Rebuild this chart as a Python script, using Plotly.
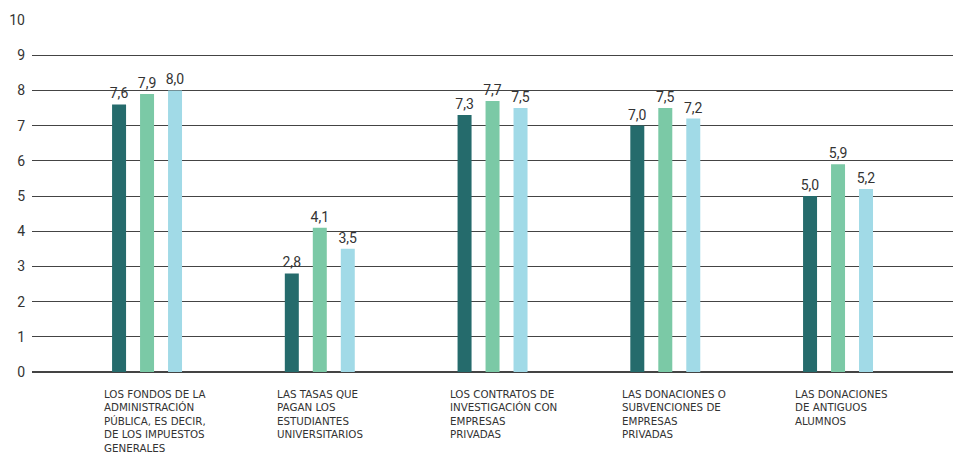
import plotly.graph_objects as go

categories = [
    "LOS FONDOS DE LA<br>ADMINISTRACIÓN<br>PÚBLICA, ES DECIR,<br>DE LOS IMPUESTOS<br>GENERALES",
    "LAS TASAS QUE<br>PAGAN LOS<br>ESTUDIANTES<br>UNIVERSITARIOS",
    "LOS CONTRATOS DE<br>INVESTIGACIÓN CON<br>EMPRESAS<br>PRIVADAS",
    "LAS DONACIONES O<br>SUBVENCIONES DE<br>EMPRESAS<br>PRIVADAS",
    "LAS DONACIONES<br>DE ANTIGUOS<br>ALUMNOS",
]
keys = ["c1", "c2", "c3", "c4", "c5"]
series1 = [7.6, 2.8, 7.3, 7.0, 5.0]
series2 = [7.9, 4.1, 7.7, 7.5, 5.9]
series3 = [8.0, 3.5, 7.5, 7.2, 5.2]
colors = ["#256b6c", "#7bc9a6", "#a1dae7"]
y_ticks = [0, 1, 2, 3, 4, 5, 6, 7, 8, 9, 10]

font_family = "Roboto, 'DejaVu Sans', sans-serif"
fig = go.Figure()
for vals, col, name in zip([series1, series2, series3], colors, ["A", "B", "C"]):
    fig.add_trace(go.Bar(
        x=keys, y=vals, name=name, marker=dict(color=col, line=dict(width=0)),
        texttemplate="%{y:.1f}", textposition="outside", cliponaxis=False,
        constraintext="none",
        textfont=dict(size=14, color="#333333", family=font_family),
    ))

for k, lab in zip(keys, categories):
    fig.add_annotation(
        x=k, xref="x", y=0, yref="paper", yanchor="top", xanchor="left",
        xshift=-45, yshift=-14, text=lab, showarrow=False, align="left",
        font=dict(size=10.3, color="#333333", family="'DejaVu Sans', sans-serif"),
    )

# page body has an 8px margin, so the figure is sized/offset to compensate
fig.update_layout(
    width=953, height=444,
    margin=dict(l=24, r=1, t=12, b=80),
    paper_bgcolor="white", plot_bgcolor="white",
    barmode="group", bargap=0.514, bargroupgap=0.5,
    separators=",.",
    showlegend=False,
    font=dict(family=font_family, color="#333333"),
)
fig.update_xaxes(range=[-0.666, 4.706], showticklabels=False, showgrid=False,
                 zeroline=False, showline=False, fixedrange=True)
fig.update_yaxes(range=[0, 10], tickvals=y_ticks, showgrid=True,
                 gridcolor="#444444", gridwidth=1, zeroline=True,
                 zerolinecolor="#444444", zerolinewidth=1.5, showline=False,
                 ticks="", tickfont=dict(size=14, color="#333333", family=font_family),
                 ticklabelstandoff=6)

fig.write_html("out.html")
